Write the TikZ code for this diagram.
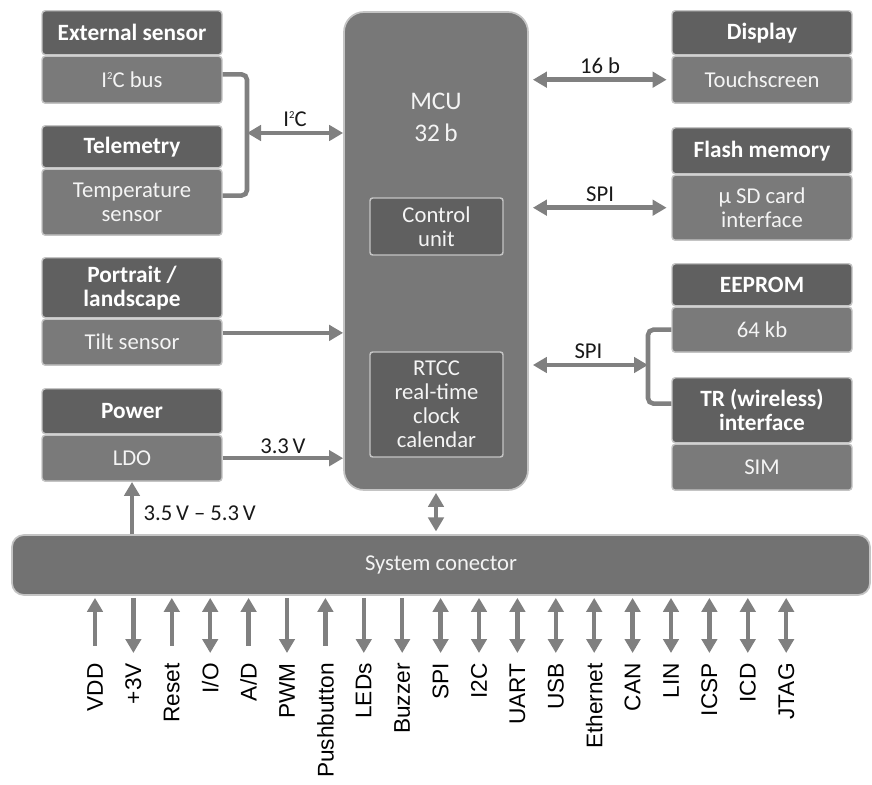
\documentclass[tikz,border=0pt]{standalone}
\usepackage{fontspec}
\setmainfont{Carlito}
\newfontfamily\pinfont{Liberation Sans}
\usetikzlibrary{arrows.meta,positioning}

\definecolor{hdrgray}{HTML}{606060}
\definecolor{bodygray}{HTML}{7A7A7A}
\definecolor{mcugray}{HTML}{787878}
\definecolor{busgray}{HTML}{727272}
\definecolor{rimgray}{HTML}{C4C4C4}
\definecolor{wiregray}{HTML}{808080}
\definecolor{boxtext}{HTML}{F4F4F4}

\newcommand{\Isq}{I\raisebox{0.75ex}{\fontsize{8}{8}\selectfont 2}C}

\tikzset{
  hdr/.style={draw=rimgray, fill=hdrgray, line width=1.1pt, rounded corners=2.5pt, minimum width=135pt, minimum height=33pt, inner sep=1pt, align=center, text=white, font=\fontsize{17.5}{18}\selectfont\bfseries},
  bdy/.style={hdr, fill=bodygray, text=boxtext, font=\fontsize{17}{18}\selectfont},
  inbox/.style={draw=rimgray, fill=hdrgray, line width=1.1pt, rounded corners=2pt, minimum width=99.75pt, inner sep=1pt, align=center, text=boxtext, font=\fontsize{17}{18}\selectfont},
  wire/.style={draw=wiregray, line width=3.4pt},
  bus/.style={wire, >={Triangle[length=10.5pt,width=11.5pt]}},
  feed/.style={bus, ->},
  link/.style={bus, <->},
  lbl/.style={font=\fontsize{17}{18}\selectfont, text=black!90, inner sep=1pt},
  sigup/.style={bus, <-, shorten <=1.5pt, shorten >=13pt},
  sigdn/.style={bus, ->, shorten <=1.5pt, shorten >=7.5pt},
  sigbi/.style={bus, <->, shorten <=1.5pt, shorten >=7.5pt},
  pinlbl/.style={font=\pinfont\fontsize{17}{18}\selectfont, rotate=90, anchor=east, inner sep=0pt},
}

\begin{document}
\begin{tikzpicture}[x=0.75pt, y=-0.75pt]
\useasboundingbox (0,0) rectangle (872,785);

% MCU
\node[draw=rimgray, fill=mcugray, line width=1.3pt, rounded corners=15pt, minimum width=138pt, minimum height=358.5pt] (mcu) at (436,251) {};
\node[font=\fontsize{19}{24}\selectfont, text=boxtext, align=center] (mcut) at (436,117) {MCU\\32\,b};
\node[inbox, minimum height=42.75pt] (ctrl) at (436.5,226.5) {Control\\unit};
\node[inbox, minimum height=78.75pt] (rtcc) at (436.5,404.5) {RTCC\\real-time\\clock\\calendar};

% left column
\node[hdr, anchor=north] (exth) at (132,10) {External sensor};
\node[bdy, below=0pt of exth, minimum height=35.25pt] (extb) {\Isq{} bus};
\node[hdr, anchor=north, minimum height=31.5pt] (telh) at (132,125) {Telemetry};
\node[bdy, below=0pt of telh, minimum height=49.5pt] (telb) {Temperature\\sensor};
\node[hdr, anchor=north, minimum height=45pt] (tilth) at (132,257) {Portrait /\\landscape};
\node[bdy, below=0pt of tilth, minimum height=34.5pt] (tiltb) {Tilt sensor};
\node[hdr, anchor=north, minimum height=33.75pt] (pwrh) at (132,388) {Power};
\node[bdy, below=0pt of pwrh, minimum height=34.5pt] (pwrb) {LDO};

% right column
\node[hdr, anchor=north] (disph) at (762,10) {Display};
\node[bdy, below=0pt of disph, minimum height=35.25pt] (dispb) {Touchscreen};
\node[hdr, anchor=north, minimum height=34.5pt] (flashh) at (762,127) {Flash memory};
\node[bdy, below=0pt of flashh, minimum height=48.75pt] (flashb) {µ SD card\\interface};
\node[hdr, anchor=north, minimum height=31.5pt] (eeph) at (762,263) {EEPROM};
\node[bdy, below=0pt of eeph, minimum height=33.75pt] (eepb) {64 kb};
\node[hdr, anchor=north, minimum height=48.75pt] (trh) at (762,377) {TR (wireless)\\interface};
\node[bdy, below=0pt of trh, minimum height=34.5pt] (trb) {SIM};

\node[draw=rimgray, fill=busgray, line width=1.3pt, rounded corners=9pt, minimum width=643.5pt, minimum height=45pt, text=boxtext, font=\fontsize{17}{18}\selectfont] (sys) at (441,565) {System conector};

% buses
\coordinate (i2cj) at (247,133);
\draw[wire, rounded corners=4pt] ([yshift=4pt]extb.east) -| (i2cj) |- ([yshift=5pt]telb.east);
\draw[link] (i2cj) -- (mcu.west |- i2cj) node[lbl, midway, above=2pt] {\Isq};
\coordinate (tiltw) at ([yshift=7pt]tiltb.east);
\draw[feed] (tiltw) -- (mcu.west |- tiltw);
\draw[feed] (pwrb.east) -- (mcu.west |- pwrb.east) node[lbl, midway, above=1pt] {3.3\,V};
\draw[feed] (pwrb.south |- sys.north) -- (pwrb.south) node[lbl, pos=0.4, right=6pt] {3.5\,V -- 5.3\,V};
\draw[link, shorten <=1.5pt, shorten >=2pt] (mcu.south) -- (sys.north -| mcu.south);

\draw[link, shorten <=3pt, shorten >=3.5pt] (mcu.east |- dispb.west) -- (dispb.west) node[lbl, midway, above=2pt] {16 b};
\draw[link, shorten <=3pt, shorten >=3.5pt] (mcu.east |- flashb.west) -- (flashb.west) node[lbl, midway, above=2pt] {SPI};
\coordinate (spij) at (648,365);
\draw[wire, rounded corners=4pt] (eepb.west) -| (spij) |- ([yshift=5pt]trh.west);
\draw[link, shorten <=3pt] (mcu.east |- spij) -- (spij) node[lbl, midway, above=2pt] {SPI};

% connector pins
\foreach \pin/\dir [count=\i from 0] in {VDD/up, +3V/dn, Reset/up, {I/O}/bi, {A/D}/up, PWM/dn, Pushbutton/up, LEDs/dn, Buzzer/dn, SPI/bi, I2C/bi, UART/bi, USB/bi, Ethernet/bi, CAN/bi, LIN/bi, ICSP/bi, ICD/bi, JTAG/bi}
{
  \node[pinlbl] (p\i) at ({95+38.4*\i},663) {\pin};
  \draw[sig\dir] (p\i.east |- sys.south) -- (p\i.east);
}
\end{tikzpicture}
\end{document}
